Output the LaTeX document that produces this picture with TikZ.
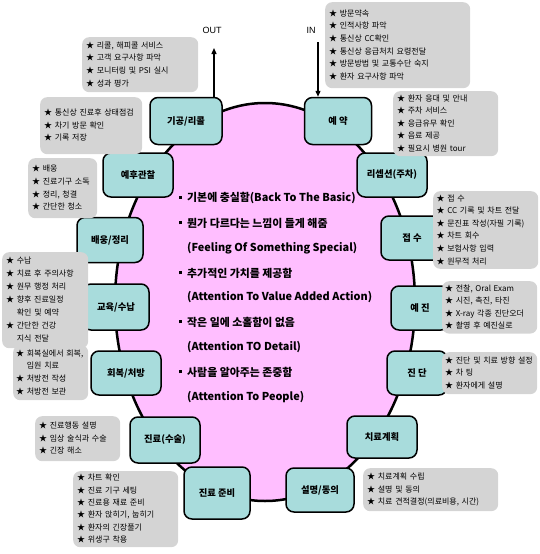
\documentclass[tikz,border=0pt]{standalone}
\usepackage{fontspec}
\setmainfont{Noto Sans CJK KR}
\newfontfamily\latfont{Liberation Sans}
\usetikzlibrary{arrows.meta,shapes.geometric}
\definecolor{pinkc}{RGB}{255,190,255}
\definecolor{tealc}{RGB}{168,220,220}
\definecolor{gboxc}{RGB}{212,212,212}
\newcommand{\cont}{\phantom{★ }}
\newcommand{\bul}{\makebox[8pt][l]{\raisebox{2.8pt}{\rule{3pt}{3pt}}}}
\newcommand{\glines}[1]{\begin{tabular}{@{}l@{}}#1\end{tabular}}
\begin{document}
\begin{tikzpicture}[x=1pt,y=-1pt,
  tnode/.style={draw, line width=1.5pt, fill=tealc, rounded corners=8pt,
    font=\bfseries\fontsize{9.3}{11}\selectfont, inner sep=2pt},
  gbox/.style={fill=gboxc, rounded corners=7pt, align=left, inner xsep=4pt,
    inner ysep=1pt, anchor=north west, font=\fontsize{8}{12.6}\selectfont},
  ctext/.style={anchor=west, inner sep=0pt, font=\bfseries\fontsize{10.9}{13}\selectfont},
  arr/.style={line width=1.3pt, -{Triangle[length=6pt,width=5pt]}},
  lbl/.style={font=\latfont\fontsize{9}{11}\selectfont, inner sep=0pt}]
\useasboundingbox (0,0) rectangle (540,554);
\node[ellipse, draw, line width=2.5pt, fill=pinkc, minimum width=300pt, minimum height=398pt, inner sep=0pt] (oval) at (265,302) {};

% centre text
\node[ctext] (c1) at (179,198) {\bul 기본에 충실함(Back To The Basic)};
\node[ctext] (c2) at (179,223) {\bul 뭔가 다르다는 느낌이 들게 해줌};
\node[ctext] (c3) at (187,248) {(Feeling Of Something Special)};
\node[ctext] (c4) at (179,273) {\bul 추가적인 가치를 제공함};
\node[ctext] (c5) at (187,297) {(Attention To Value Added Action)};
\node[ctext] (c6) at (179,322) {\bul 작은 일에 소홀함이 없음};
\node[ctext] (c7) at (187,347) {(Attention TO Detail)};
\node[ctext] (c8) at (179,372) {\bul 사람을 알아주는 존중함};
\node[ctext] (c9) at (187,397) {(Attention To People)};

% stage nodes
\node[tnode, minimum width=72pt, minimum height=47pt] (gigong) at (186,121) {기공/리콜};
\node[tnode, minimum width=67pt, minimum height=47pt] (yeyak) at (338,121) {예 약};
\node[tnode, minimum width=70pt, minimum height=44pt] (yehu) at (138,175) {예후관찰};
\node[tnode, minimum width=70pt, minimum height=44pt] (recep) at (392,175) {리셉션(주차)};
\node[tnode, minimum width=66pt, minimum height=45pt] (baeung) at (110,240) {배웅/정리};
\node[tnode, minimum width=62pt, minimum height=44pt] (jeopsu) at (412,238) {접 수};
\node[tnode, minimum width=66pt, minimum height=46pt] (gyoyuk) at (116,307) {교육/수납};
\node[tnode, minimum width=58pt, minimum height=44pt] (yejin) at (420,308) {예 진};
\node[tnode, minimum width=70pt, minimum height=44pt] (hoebok) at (126,373) {회복/처방};
\node[tnode, minimum width=60pt, minimum height=44pt] (jindan) at (417,373) {진 단};
\node[tnode, minimum width=70pt, minimum height=46pt] (jinryo) at (165,440) {진료(수술)};
\node[tnode, minimum width=70pt, minimum height=42pt] (chiryo) at (382,437) {치료계획};
\node[tnode, minimum width=66pt, minimum height=52pt] (junbi) at (217,493) {진료 준비};
\node[tnode, minimum width=68pt, minimum height=44pt] (seol) at (320,490) {설명/동의};

% gray detail boxes
\node[gbox, text width=137pt, minimum height=86pt] (g1) at (325,2) {\glines{★ 방문약속\\★ 인적사항 파악\\★ 통신상 CC확인\\★ 통신상 응급처치 요령전달\\★ 방문방법 및 교통수단 숙지\\★ 환자 요구사항 파악}};
\node[gbox, text width=108pt, minimum height=55pt] (g2) at (82,37) {\glines{★ 리콜, 해피콜 서비스\\★ 고객 요구사항 파악\\★ 모니터링 및 PSI 실시\\★ 성과 평가}};
\node[gbox, text width=94pt, minimum height=57pt] (g3) at (40,97) {\glines{★ 통신상 진료후 상태점검\\★ 차기 방문 확인\\★ 기록 저장}};
\node[gbox, text width=61pt, minimum height=60pt] (g4) at (28,158) {\glines{★ 배웅\\★ 진료기구 소독\\★ 정리, 청결\\★ 간단한 청소}};
\node[gbox, text width=78pt, minimum height=96pt, font=\fontsize{8}{13}\selectfont] (g5) at (2,252) {\glines{★ 수납\\★ 치료 후 주의사항\\★ 원무 행정 처리\\★ 향후 진료일정\\\cont 확인 및 예약\\★ 간단한 건강\\\cont 지식 전달}};
\node[gbox, text width=69pt, minimum height=55pt, inner xsep=3pt] (g6) at (13,345) {\glines{★ 회복실에서 회복,\\\cont 입원 치료\\★ 처방전 작성\\★ 처방전 보관}};
\node[gbox, text width=77pt, minimum height=45pt] (g7) at (35,416) {\glines{★ 진료행동 설명\\★ 임상 술식과 수술\\★ 긴장 해소}};
\node[gbox, text width=97pt, minimum height=76pt, font=\fontsize{8}{12.3}\selectfont] (g8) at (73,471) {\glines{★ 차트 확인\\★ 진료 기구 세팅\\★ 진료용 재료 준비\\★ 환자 앉히기, 눕히기\\★ 환자의 긴장풀기\\★ 위생구 착용}};
\node[gbox, text width=127pt, minimum height=43pt] (g9) at (363,468) {\glines{★ 치료계획 수립\\★ 설명 및 동의\\★ 치료 견적결정(의료비용, 시간)}};
\node[gbox, text width=97pt, minimum height=63pt] (g10) at (393,91) {\glines{★ 환자 응대 및 안내\\★ 주차 서비스\\★ 응급유무 확인\\★ 음료 제공\\★ 필요시 병원 tour}};
\node[gbox, text width=98pt, minimum height=77pt, inner xsep=3.5pt] (g11) at (433,191) {\glines{★ 접 수\\★ CC 기록 및 차트 전달\\★ 문진표 작성(자필 기록)\\★ 차트 회수\\★ 보험사항 입력\\★ 원무적 처리}};
\node[gbox, text width=89pt, minimum height=51pt, inner xsep=3pt] (g12) at (442,281) {\glines{★ 전찰, Oral Exam\\★ 시진, 촉진, 타진\\★ X-ray 각종 진단오더\\★ 촬영 후 예진실로}};
\node[gbox, text width=89pt, minimum height=42pt, inner xsep=3pt] (g13) at (442,352) {\glines{★ 진단 및 치료 방향 설정\\★ 차 팅\\★ 환자에게 설명}};

% in / out arrows
\coordinate (outtip) at (214,48);
\coordinate (instart) at (318,42);
\draw[arr] (outtip |- gigong.north) -- (outtip);
\draw[arr] (instart) -- (instart |- yeyak.north);
\node[lbl] (outlbl) at (212,30) {OUT};
\node[lbl] (inlbl) at (311,30) {IN};
\end{tikzpicture}
\end{document}
